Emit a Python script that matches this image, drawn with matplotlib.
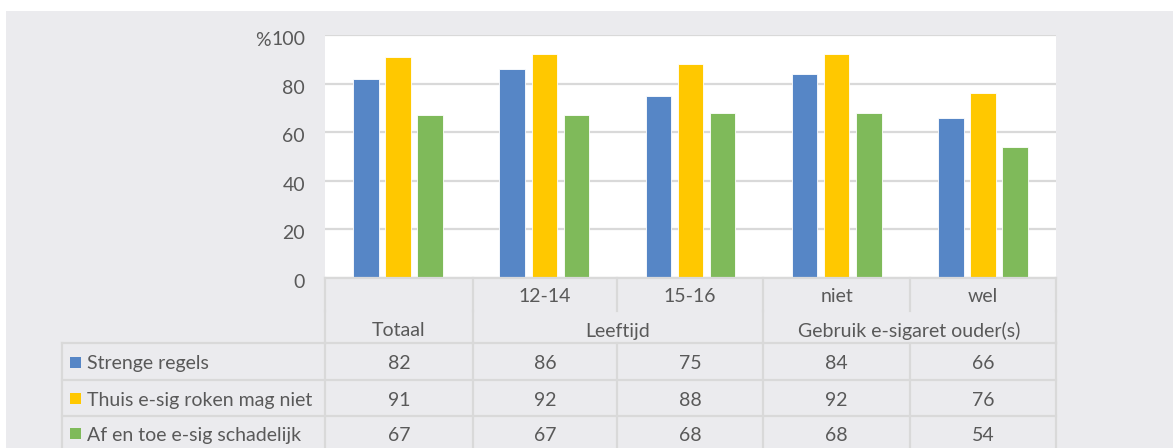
import matplotlib
matplotlib.use("Agg")
import matplotlib.pyplot as plt
import matplotlib.transforms as mtransforms
from matplotlib.patches import Rectangle
from matplotlib.lines import Line2D
import numpy as np

plt.rcParams['font.family'] = ['Lato', 'DejaVu Sans']

# data
subgroups = ["", "12-14", "15-16", "niet", "wel"]
groups = [("Totaal", 0, 1), ("Leeftijd", 1, 3), ("Gebruik e-sigaret ouder(s)", 3, 5)]
series_names = ["Strenge regels", "Thuis e-sig roken mag niet", "Af en toe e-sig schadelijk"]
strenge = [82, 86, 75, 84, 66]
thuis = [91, 92, 88, 92, 76]
schadelijk = [67, 67, 68, 68, 54]
colors = ["#5686c6", "#ffc800", "#7fba5a"]

W, H = 1173, 448
fig = plt.figure(figsize=(W / 100, H / 100), dpi=100)
fig.patch.set_facecolor("white")
bg = "#ebebee"
grid_c = "#d9d9d9"
txt_c = "#595959"

def fx(x):
    return x / W

def fy(y):
    return 1 - y / H

fig.add_artist(Rectangle((fx(6), 0), 1 - fx(6), fy(11), transform=fig.transFigure,
                         facecolor=bg, edgecolor="none", zorder=-5))

left, right, top, bottom = 325, 1056, 35, 278
ax = fig.add_axes([fx(left), fy(bottom), fx(right) - fx(left), fy(top) - fy(bottom)])
ax.set_zorder(1)
ax.set_facecolor("white")

x = np.arange(len(subgroups))
w = 0.175
off = 0.22
for i, vals in enumerate([strenge, thuis, schadelijk]):
    ax.bar(x + (i - 1) * off, vals, width=w, color=colors[i], edgecolor="white",
           linewidth=0.6, zorder=3)

fs = 14
ax.set_xlim(-0.5, len(subgroups) - 0.5)
ax.set_ylim(0, 100)
ax.set_yticks(range(0, 101, 20))
ax.tick_params(axis="y", length=0, pad=14.4, labelsize=fs, labelcolor=txt_c)
ax.set_xticks([])
for s in ax.spines.values():
    s.set_visible(False)
ax.yaxis.grid(True, color=grid_c, linewidth=1.6, zorder=0)
ax.set_axisbelow(True)
shift = mtransforms.ScaledTranslation(0, -3 / 100, fig.dpi_scale_trans)
for lab in ax.get_yticklabels():
    lab.set_transform(lab.get_transform() + shift)
fig.text(fx(271), fy(40), "%", ha="right", va="center", fontsize=fs, color=txt_c)

# table
cols = [325, 473, 617, 763, 910, 1056]
r1, r2, r3 = 278, 311, 343
rows = [343, 380, 416, 452]
lw = 1.6

def hline(y, x0, x1):
    fig.add_artist(Line2D([fx(x0), fx(x1)], [fy(y), fy(y)], color=grid_c, lw=lw, zorder=5))

def vline(x0, y0, y1):
    fig.add_artist(Line2D([fx(x0), fx(x0)], [fy(y0), fy(y1)], color=grid_c, lw=lw, zorder=5))

hline(r1, cols[0], cols[-1])
hline(r3, 62, cols[-1])
for y in rows[1:3]:
    hline(y, 62, cols[-1])
for c in cols:
    vline(c, r1, r2)
for c in [cols[0], cols[1], cols[3], cols[5]]:
    vline(c, r2, r3)
for c in cols:
    vline(c, r3, H)
vline(62, r3, H)

for i, lab in enumerate(subgroups):
    xc = (cols[i] + cols[i + 1]) / 2
    fig.text(fx(xc), fy((r1 + r2) / 2 + 2), lab, ha="center", va="center", fontsize=fs, color=txt_c)
for lab, a, b in groups:
    xc = (cols[a] + cols[b]) / 2
    fig.text(fx(xc), fy((r2 + r3) / 2 + 4), lab, ha="center", va="center", fontsize=fs, color=txt_c)

for k, (name, vals) in enumerate(zip(series_names, [strenge, thuis, schadelijk])):
    yc = (rows[k] + min(rows[k + 1], 452)) / 2 + (2 if k < 2 else 1)
    fig.add_artist(Rectangle((fx(70), fy(yc + 4)), fx(11), 11 / H, transform=fig.transFigure,
                             facecolor=colors[k], edgecolor="none", zorder=6))
    fig.text(fx(87), fy(yc), name, ha="left", va="center", fontsize=fs, color=txt_c)
    for i, v in enumerate(vals):
        xc = (cols[i] + cols[i + 1]) / 2
        fig.text(fx(xc), fy(yc), str(v), ha="center", va="center", fontsize=fs, color=txt_c)

fig.savefig("out.png", dpi=100, facecolor=fig.get_facecolor())
